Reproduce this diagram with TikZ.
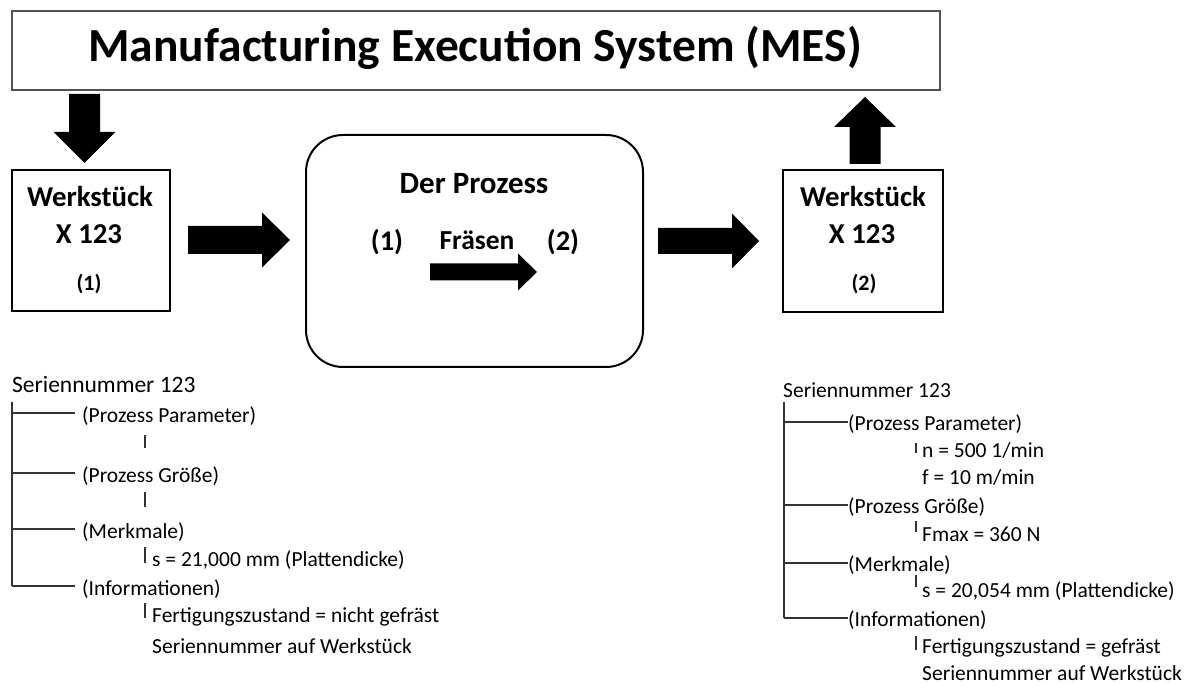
\documentclass[tikz,border=0pt]{standalone}
\usepackage{fontspec}
\setmainfont{Carlito}
\newcommand{\fsz}[1]{\fontsize{#1}{#1}\selectfont}
% vertical block arrow: xc, y start, y head base, y tip, shaft half, head half
\newcommand{\varrow}[6]{\fill[arrowfill] ({#1-#5},#2) -- ({#1-#5},#3) -- ({#1-#6},#3) -- (#1,#4) -- ({#1+#6},#3) -- ({#1+#5},#3) -- ({#1+#5},#2) -- cycle;}
% horizontal block arrow: yc, x start, x head base, x tip, shaft half, head half
\newcommand{\harrow}[6]{\fill[arrowfill] (#2,{#1-#5}) -- (#3,{#1-#5}) -- (#3,{#1-#6}) -- (#4,#1) -- (#3,{#1+#6}) -- (#3,{#1+#5}) -- (#2,{#1+#5}) -- cycle;}
\begin{document}
\begin{tikzpicture}[x=1pt,y=-1pt,
  arrowfill/.style={fill=black},
  mesbox/.style={draw=black!68, line width=1.6pt},
  wbox/.style={draw=black, line width=2pt},
  pbox/.style={draw=black, line width=2pt, rounded corners=37pt},
  boldtxt/.style={font=\bfseries\fsz{28.8}, inner sep=0pt, anchor=base},
  treeline/.style={draw=black!80, line width=1.4pt},
  tlabel/.style={font=\fsz{21.5}, anchor=west, inner ysep=0pt},
  llabel/.style={tlabel, inner xsep=7pt},
  rlabel/.style={tlabel, inner xsep=0pt},
  sub/.style={font=\fsz{21.5}, anchor=west, inner sep=0pt},
]
\useasboundingbox (0,0) rectangle (1194,684);
\fill[white] (0,0) rectangle (1194,684);

% MES box
\draw[mesbox] (12,11) rectangle (940,90);
\node[font=\bfseries\fsz{47.5}, inner sep=0pt, anchor=base] (mes) at (475,62) {Manufacturing Execution System (MES)};

% Arrows from/to MES
\varrow{84.5}{94}{132}{163}{15.5}{31}
\varrow{865}{164}{127}{97}{15.5}{31}

% Left workpiece box
\draw[wbox] (12,170) rectangle (170,311);
\node[boldtxt] (w1a) at (90,207) {Werkstück};
\node[boldtxt] (w1b) at (89,244) {X 123};
\node[boldtxt, font=\bfseries\fsz{22}] (w1c) at (89,291) {(1)};

% Arrow to process
\harrow{240}{188}{262}{290}{14}{27.5}

% Process box
\draw[pbox] (306,135) rectangle (643,367);
\node[boldtxt, font=\bfseries\fsz{31}] (dp) at (474,194) {Der Prozess};
\node[boldtxt, font=\bfseries\fsz{28.5}] (p1) at (387,251) {(1)};
\node[boldtxt, font=\bfseries\fsz{27.5}] (fr) at (477,250) {Fräsen};
\node[boldtxt, font=\bfseries\fsz{28.5}] (p2) at (563,251) {(2)};
\harrow{272}{430}{518}{537}{8.5}{18.5}

% Arrow to right box
\harrow{241}{658}{732}{759}{13}{27.5}

% Right workpiece box
\draw[wbox] (783,170) rectangle (943,312);
\node[boldtxt] (w2a) at (863,207) {Werkstück};
\node[boldtxt] (w2b) at (862,244) {X 123};
\node[boldtxt, font=\bfseries\fsz{22}] (w2c) at (864,291) {(2)};

% ---------- Left tree ----------
\node[font=\fsz{23.5}, anchor=base west, inner sep=0pt] (ls) at (12,393) {Seriennummer 123};
\coordinate (lt0) at (12,402);
\coordinate (lb1) at (12,413);
\coordinate (lb2) at (12,473);
\coordinate (lb3) at (12,529);
\coordinate (lb4) at (12,586);
\node[llabel] (ll1) at (75,416) {(Prozess Parameter)};
\node[llabel] (ll2) at (75,476) {(Prozess Größe)};
\node[llabel] (ll3) at (75,532) {(Merkmale)};
\node[llabel] (ll4) at (75,589) {(Informationen)};
\draw[treeline] (lt0) -- (lb4);
\draw[treeline] (lb1) -- (ll1.west |- lb1);
\draw[treeline] (lb2) -- (ll2.west |- lb2);
\draw[treeline] (lb3) -- (ll3.west |- lb3);
\draw[treeline] (lb4) -- (ll4.west |- lb4);
\draw[treeline] (145,435) -- (145,448);
\draw[treeline] (145,492) -- (145,507);
\draw[treeline] (145,547) -- (145,563);
\draw[treeline] (145,603) -- (145,618);
\node[sub] (ls1) at (152,560) {s = 21,000 mm (Plattendicke)};
\node[sub] (ls2) at (152,617) {Fertigungszustand = nicht gefräst};
\node[sub] (ls3) at (152,646) {Seriennummer auf Werkstück};

% ---------- Right tree ----------
\node[font=\fsz{21.5}, anchor=base west, inner sep=0pt] (rs) at (783,398) {Seriennummer 123};
\coordinate (rt0) at (784,402);
\coordinate (rb1) at (784,422);
\coordinate (rb2) at (784,505);
\coordinate (rb3) at (784,563);
\coordinate (rb4) at (784,618);
\node[rlabel] (rl1) at (848,424) {(Prozess Parameter)};
\node[rlabel] (rl2) at (848,507) {(Prozess Größe)};
\node[rlabel] (rl3) at (848,565) {(Merkmale)};
\node[rlabel] (rl4) at (848,620) {(Informationen)};
\draw[treeline] (rt0) -- (rb4);
\draw[treeline] (rb1) -- (rl1.west |- rb1);
\draw[treeline] (rb2) -- (rl2.west |- rb2);
\draw[treeline] (rb3) -- (rl3.west |- rb3);
\draw[treeline] (rb4) -- (rl4.west |- rb4);
\draw[treeline] (916,443) -- (916,453);
\draw[treeline] (916,521) -- (916,532);
\draw[treeline] (916,575) -- (916,587);
\draw[treeline] (916,636) -- (916,650);
\node[sub] (rs1) at (922,450) {n = 500 1/min};
\node[sub] (rs2) at (922,477) {f = 10 m/min};
\node[sub] (rs3) at (922,534) {Fmax = 360 N};
\node[sub] (rs4) at (922,591) {s = 20,054 mm (Plattendicke)};
\node[sub] (rs5) at (922,648) {Fertigungszustand = gefräst};
\node[sub] (rs6) at (922,673) {Seriennummer auf Werkstück};
\end{tikzpicture}
\end{document}
